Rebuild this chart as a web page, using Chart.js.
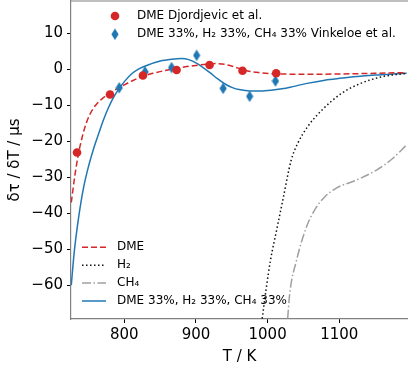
<!DOCTYPE html>
<html lang="en">
<head>
<meta charset="UTF-8">
<title>Ignition delay sensitivity</title>
<script src="https://cdn.jsdelivr.net/npm/chart.js@4.4.1/dist/chart.umd.min.js"></script>
<style>
  body { margin: 0; background: #fff; }
  canvas { display: block; }
</style>
</head>
<body>
<canvas id="chart" width="408" height="370"></canvas>
<script>
// measured points
var djT   = [734, 780, 826, 873, 919, 965, 1012];
var djTau = [-23.1, -7.0, -1.7, -0.2, 1.2, -0.4, -1.1];
var vkT   = [793, 829, 866, 901, 938, 975, 1011];
var vkTau = [-5.1, -0.7, 0.5, 3.9, -5.3, -7.5, -3.25];

// model curves
var dmeT   = [726, 731, 736, 741, 746, 752, 760, 770, 780, 790, 800, 812, 825, 840, 855, 870, 885, 900, 915, 928, 940, 952, 964, 976, 990, 1005, 1020, 1040, 1070, 1100, 1150, 1194];
var dmeTau = [-37, -29.5, -23.5, -19, -15.5, -12.5, -10, -8, -6.6, -5.4, -4.3, -3.1, -2.0, -1.1, -0.4, 0.2, 0.7, 1.1, 1.45, 1.6, 1.4, 0.8, 0.0, -0.6, -0.95, -1.2, -1.3, -1.35, -1.35, -1.3, -1.1, -0.9];
var h2T    = [992.5, 998, 1004.3, 1012.7, 1020.4, 1033, 1042, 1056, 1076, 1103, 1130, 1161, 1194];
var h2Tau  = [-69.3, -61, -52.8, -44.6, -37.2, -25.2, -20.6, -15.9, -11.3, -6.7, -3.9, -2.0, -1.1];
var ch4T   = [1028, 1031, 1040.5, 1054.5, 1066, 1080, 1096, 1124, 1152, 1175, 1194];
var ch4Tau = [-69.3, -62.2, -53, -43.7, -39, -35.4, -33, -30.8, -28, -24.7, -21];
var mixT   = [726, 730, 736, 743, 750, 758, 764, 771, 778, 785, 793, 801, 810, 821, 833, 850, 866, 880, 890, 900, 910, 920, 930, 940, 950, 962, 975, 990, 1005, 1020, 1035, 1055, 1080, 1101, 1125, 1150, 1175, 1194];
var mixTau = [-60, -51, -41.5, -33, -27, -21.5, -18, -14, -10.6, -7.8, -5.3, -3.2, -1.3, 0.2, 1.2, 2.3, 2.8, 3.0, 2.7, 1.8, 0.5, -1.0, -2.6, -4.0, -5.0, -5.7, -6.0, -6.0, -5.8, -5.4, -4.8, -3.9, -3.0, -2.5, -2.0, -1.6, -1.3, -1.1];

var xTicks = [800, 900, 1000, 1100];
var yTicks = [-60, -50, -40, -30, -20, -10, 0, 10];

var RED = '#d62728', BLUE = '#1f77b4';
var FONT = 'DejaVu Sans';

function pts(xs, ys) {
  return xs.map(function (x, i) { return { x: x, y: ys[i] }; });
}

// matplotlib style thin diamond
var diamond = document.createElement('canvas');
diamond.width = 8; diamond.height = 12;
(function () {
  var c = diamond.getContext('2d');
  c.fillStyle = BLUE;
  c.beginPath();
  c.moveTo(4, 0.3); c.lineTo(7.6, 6); c.lineTo(4, 11.7); c.lineTo(0.4, 6);
  c.closePath(); c.fill();
})();

var topLegend = [
  { label: 'DME Djordjevic et al.', ds: 0 },
  { label: 'DME 33%, H\u2082 33%, CH\u2084 33% Vinkeloe et al.', ds: 1 }
];
var bottomLegend = [
  { label: 'DME', ds: 2 },
  { label: 'H\u2082', ds: 3 },
  { label: 'CH\u2084', ds: 4 },
  { label: 'DME 33%, H\u2082 33%, CH\u2084 33%', ds: 5 }
];

var legends = {
  id: 'legends',
  afterDraw: function (chart) {
    var ctx = chart.ctx, a = chart.chartArea;
    ctx.save();
    // top spine
    ctx.strokeStyle = '#808080';
    ctx.lineWidth = 1.2;
    ctx.beginPath();
    ctx.moveTo(a.left, a.top); ctx.lineTo(a.right, a.top);
    ctx.stroke();

    ctx.font = '12px "' + FONT + '"';
    ctx.textBaseline = 'middle';
    ctx.fillStyle = '#000';
    topLegend.forEach(function (e, i) {
      var y = 16 + i * 18.3;
      var ds = chart.data.datasets[e.ds];
      if (ds.pointStyle === 'circle') {
        ctx.fillStyle = ds.backgroundColor;
        ctx.beginPath(); ctx.arc(115, y, ds.pointRadius, 0, Math.PI * 2); ctx.fill();
      } else {
        ctx.drawImage(ds.pointStyle, 115 - 4, y - 6);
      }
      ctx.fillStyle = '#000';
      ctx.fillText(e.label, 137, y);
    });

    bottomLegend.forEach(function (e, i) {
      var y = 247.3 + i * 17.9;
      var ds = chart.data.datasets[e.ds];
      ctx.strokeStyle = ds.borderColor;
      ctx.lineWidth = ds.borderWidth;
      ctx.setLineDash(ds.borderDash || []);
      ctx.beginPath(); ctx.moveTo(82, y); ctx.lineTo(106, y); ctx.stroke();
      ctx.setLineDash([]);
      ctx.fillStyle = '#000';
      ctx.fillText(e.label, 117, y);
    });
    ctx.restore();
  }
};

var lineBase = { type: 'line', pointRadius: 0, borderWidth: 1.5, cubicInterpolationMode: 'monotone', clip: 0, fill: false };

new Chart(document.getElementById('chart'), {
  type: 'scatter',
  data: {
    datasets: [
      { type: 'scatter', data: pts(djT, djTau), pointStyle: 'circle', pointRadius: 4.3, backgroundColor: RED, borderWidth: 0 },
      { type: 'scatter', data: pts(vkT, vkTau), pointStyle: diamond, pointRadius: 5, backgroundColor: BLUE, borderWidth: 0 },
      Object.assign({}, lineBase, { data: pts(dmeT, dmeTau), borderColor: RED, borderDash: [6, 3] }),
      Object.assign({}, lineBase, { data: pts(h2T, h2Tau), borderColor: '#111', borderDash: [1.5, 2.5] }),
      Object.assign({}, lineBase, { data: pts(ch4T, ch4Tau), borderColor: '#a0a0a0', borderDash: [9, 2.5, 1.5, 2.5] }),
      Object.assign({}, lineBase, { data: pts(mixT, mixTau), borderColor: BLUE })
    ]
  },
  options: {
    responsive: false,
    animation: false,
    devicePixelRatio: 1,
    layout: { autoPadding: false, padding: { top: 1, right: 0, left: 0, bottom: 0 } },
    plugins: { legend: { display: false }, tooltip: { enabled: false } },
    scales: {
      x: {
        type: 'linear', min: 725.6, max: 1196,
        afterFit: function (s) { s.height = 51; s.paddingLeft = 0; s.paddingRight = 0; },
        afterBuildTicks: function (s) { s.ticks = xTicks.map(function (v) { return { value: v }; }); },
        grid: { drawOnChartArea: false, drawTicks: true, tickLength: 4, color: '#000' },
        border: { display: true, color: '#808080', width: 1.2 },
        ticks: {
          font: { family: FONT, size: 15 }, color: '#000', padding: 3, maxRotation: 0,
          callback: function (v) { return String(v); }
        },
        title: { display: true, text: 'T / K', font: { family: FONT, size: 15 }, color: '#000', padding: { top: 0, bottom: 4 } }
      },
      y: {
        type: 'linear', min: -69.4, max: 19.0,
        afterFit: function (s) { s.width = 71; s.paddingTop = 0; s.paddingBottom = 0; },
        afterBuildTicks: function (s) { s.ticks = yTicks.map(function (v) { return { value: v }; }); },
        grid: { drawOnChartArea: false, drawTicks: true, tickLength: 4, color: '#000' },
        border: { display: true, color: '#808080', width: 1.2 },
        ticks: {
          font: { family: FONT, size: 15 }, color: '#000', padding: 4,
          callback: function (v) { return v < 0 ? '\u2212' + Math.abs(v) : String(v); }
        },
        title: { display: true, text: '\u03b4\u03c4 / \u03b4T / \u03bcs', font: { family: FONT, size: 15 }, color: '#000', padding: { top: 6, bottom: 0 } }
      }
    }
  },
  plugins: [legends]
});
</script>
</body>
</html>
